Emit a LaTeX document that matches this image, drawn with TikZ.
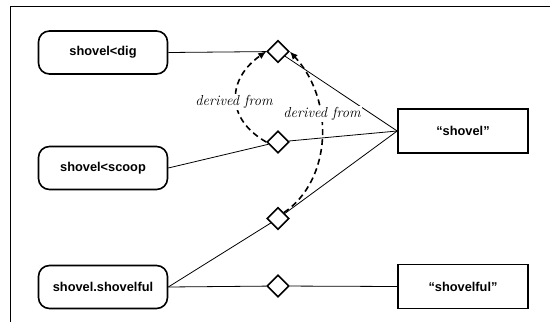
\documentclass[tikz,border=0pt]{standalone}
\usepackage{fontspec}
\setsansfont{Liberation Sans}
\usetikzlibrary{shapes.geometric,arrows.meta}
\begin{document}
\begin{tikzpicture}[x=1pt,y=-1pt,
  sensebox/.style={draw,line width=1.6pt,rounded corners=11pt,minimum width=129pt,minimum height=43pt,inner sep=0pt,font=\sffamily\bfseries\fontsize{12.8}{14}\selectfont},
  wordbox/.style={draw,line width=1.6pt,minimum width=130pt,minimum height=44pt,inner sep=0pt,font=\sffamily\bfseries\fontsize{12.8}{14}\selectfont},
  link/.style={draw,line width=1.6pt,diamond,aspect=1,minimum width=22pt,minimum height=22pt,inner sep=0pt,fill=white},
  conn/.style={line width=0.8pt},
  deriv/.style={line width=1.6pt,dash pattern=on 6pt off 4pt,-{Latex[length=8pt,width=7pt]}},
  lbl/.style={fill=white,inner sep=1pt,font=\itshape\fontsize{14.5}{16}\selectfont}]
\useasboundingbox (0,0) rectangle (550,322);
\coordinate (ftop) at (550,6);
\coordinate (fcorner) at (10,6);
\coordinate (fbot) at (10,322);
\draw[line width=1pt] (ftop) -- (fcorner) -- (fbot);

\node[sensebox] (dig) at (103,52.5) {shovel<dig};
\node[sensebox] (scoop) at (103,168) {shovel<scoop};
\node[sensebox] (ful) at (103,287) {shovel.shovelful};
\node[wordbox] (sh) at (463,131) {“shovel”};
\node[wordbox] (shf) at (463,286.5) {“shovelful”};

\node[link] (d1) at (278,51.5) {};
\node[link] (d2) at (278,142) {};
\node[link] (d3) at (278,218.5) {};
\node[link] (d4) at (278,286) {};

\draw[conn] (dig.east) -- (d1);
\draw[conn] (sh.west) -- (d1);
\draw[conn] (scoop.east) -- (d2);
\draw[conn] (d2) -- (sh.west);
\draw[conn] (ful.east) -- (d3);
\draw[conn] (d3) -- (sh.west);
\draw[conn] (ful.east) -- (d4) -- (shf.west);

\draw[deriv] (d2.west) to[out=150,in=215,looseness=1.35] (d1.west);
\draw[deriv] (d3.north east) .. controls (332,180) and (335,100) .. (d1.east);

\node[lbl] (l1) at (234,102) {derived from};
\node[lbl] (l2) at (322,114) {derived from};
\end{tikzpicture}
\end{document}
